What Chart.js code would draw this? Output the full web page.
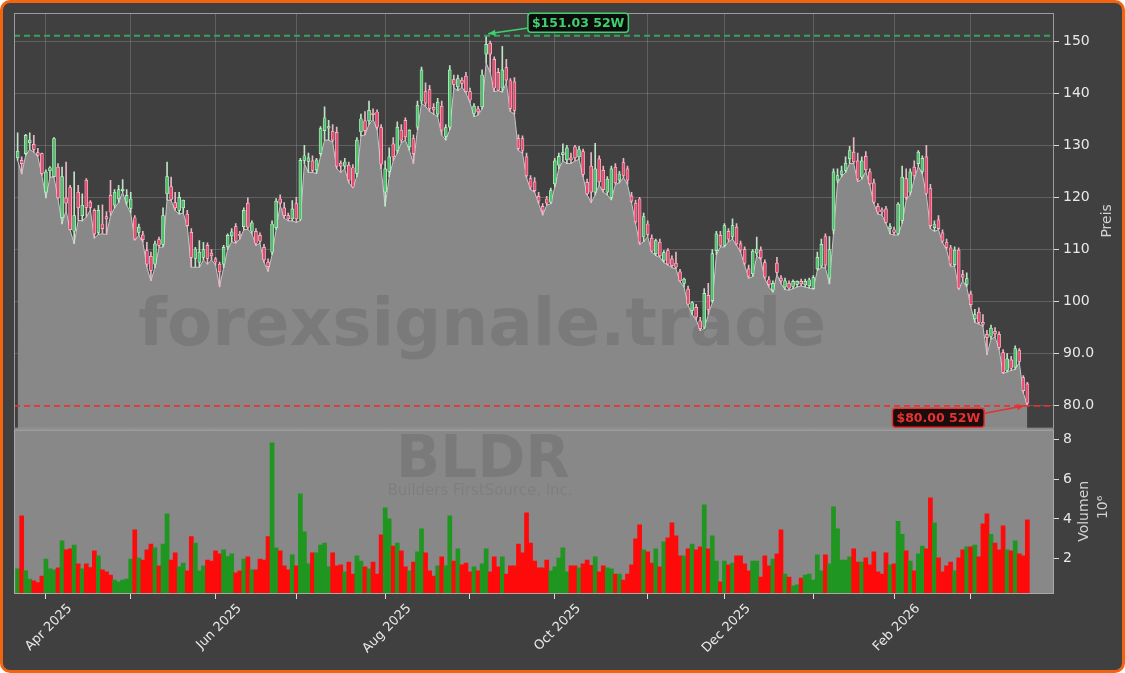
<!DOCTYPE html>
<html>
<head>
<meta charset="utf-8">
<script src="https://cdn.jsdelivr.net/npm/chart.js@4.4.1/dist/chart.umd.min.js"></script>
<style>
  html, body { margin: 0; padding: 0; background: #ffffff; }
  #frame { position: absolute; left: 0; top: 0; width: 1125px; height: 673px; box-sizing: border-box;
           border: 3px solid #f2640f; border-radius: 10px; background: #404040; }
  #chart { position: absolute; left: 0; top: 0; }
</style>
</head>
<body>
<div id="frame"></div>
<canvas id="chart" width="1125" height="673"></canvas>
<script>
// BLDR daily bars, Mar 2025 - Mar 2026 (index = trading day)
const opens = [
  127.6,127.1,128.4,130.5,130.2,128.6,128.4,121.0,125.1,124.0,
  125.8,116.1,119.9,121.9,113.5,121.0,116.5,123.3,119.1,117.5,
  113.3,114.9,116.3,120.4,118.5,119.7,121.3,119.1,117.9,116.1,
  113.3,112.8,109.8,108.7,107.2,111.9,111.0,120.7,122.1,119.0,
  117.5,118.0,116.8,113.3,108.3,107.5,108.5,110.8,109.3,108.2,
  107.2,107.2,110.5,112.6,114.4,112.9,114.4,118.9,113.5,113.5,
  112.7,110.4,107.6,109.5,114.2,119.7,118.0,116.5,115.9,118.8,
  115.8,127.1,126.9,127.0,125.3,128.4,132.8,133.3,132.7,132.5,
  126.6,126.0,126.2,125.7,124.6,132.6,134.7,134.7,136.2,136.4,
  133.4,121.0,125.0,130.3,129.0,132.9,134.8,129.7,131.3,133.5,
  138.5,140.3,140.7,137.3,136.0,137.5,131.7,133.5,142.6,141.2,
  142.5,143.3,140.3,136.1,137.0,137.4,147.5,149.6,146.5,144.0,
  141.0,144.9,142.4,142.2,131.3,131.3,127.8,123.6,123.0,120.2,
  118.3,119.7,119.1,122.6,126.2,128.2,127.2,127.6,129.7,127.8,
  128.8,122.9,126.0,121.0,127.4,125.2,121.0,120.0,125.8,123.3,
  126.7,125.5,120.3,118.9,119.7,112.4,114.9,112.2,109.2,111.4,
  107.9,109.8,108.2,107.4,105.7,103.5,102.4,98.3,98.9,96.3,
  95.1,101.2,100.2,109.8,112.7,110.8,113.5,112.5,114.3,111.1,
  110.0,106.3,105.3,109.3,109.9,107.5,104.2,102.2,107.4,104.5,
  102.8,103.5,102.9,103.3,103.9,103.2,103.0,102.5,106.3,106.8,
  112.5,104.5,113.7,123.3,124.4,125.2,127.4,128.7,127.0,123.9,
  127.9,124.9,122.8,118.3,117.6,117.8,114.0,113.8,113.1,115.6,
  123.6,121.0,125.8,126.5,125.0,127.8,121.7,114.2,115.7,113.2,
  111.4,110.3,107.1,109.9,105.2,103.3,101.5,96.7,98.0,96.0,
  93.7,93.3,94.3,93.7,90.2,86.8,88.8,87.4,90.6,85.4,
  84.2
]
const highs = [
  132.4,127.8,132.1,132.4,131.9,129.4,128.5,125.3,125.9,131.5,
  126.5,125.8,126.8,122.3,124.9,122.3,120.7,123.6,119.4,117.8,
  118.5,118.6,117.3,123.3,121.5,122.3,123.4,121.5,121.0,116.5,
  114.9,113.5,111.4,109.5,111.6,112.4,118.0,126.8,123.9,121.0,
  121.0,119.5,117.5,114.0,110.4,111.7,111.4,111.3,110.0,108.5,
  107.6,110.8,113.0,114.0,115.0,113.5,118.0,119.9,115.5,114.0,
  113.2,111.0,108.2,115.5,119.8,120.5,119.0,117.0,119.4,120.0,
  127.5,130.0,128.5,128.0,127.5,133.6,137.4,134.8,134.0,133.5,
  127.0,127.5,126.8,126.3,131.5,136.0,136.5,138.5,137.0,136.8,
  134.0,127.0,129.5,131.5,134.5,134.0,135.3,133.0,132.0,138.5,
  145.0,142.0,141.5,138.0,139.0,138.5,134.0,145.3,143.5,143.5,
  143.0,144.0,141.0,138.0,137.5,144.5,151.03,150.0,147.0,144.8,
  149.0,146.5,142.8,143.0,132.0,131.8,128.5,124.2,123.8,121.0,
  118.8,120.2,121.8,127.5,128.5,130.3,130.0,128.5,130.0,129.8,
  129.3,123.5,128.6,130.4,128.0,126.0,124.0,126.0,126.5,125.0,
  127.5,126.0,121.0,119.5,120.0,117.0,115.5,112.8,112.0,112.0,
  109.8,110.2,108.8,109.5,106.2,104.5,103.0,100.0,99.5,97.0,
  102.5,103.5,110.0,113.5,113.5,115.0,114.0,115.9,115.0,111.6,
  110.5,107.0,110.0,112.4,110.5,108.0,104.8,104.0,108.5,105.0,
  104.5,104.0,104.2,104.0,104.3,104.3,104.5,105.0,109.5,112.0,
  113.0,112.5,125.5,125.5,126.0,127.8,129.8,131.5,128.5,127.8,
  128.8,125.5,123.5,118.8,118.0,118.3,115.0,114.3,119.0,126.0,
  125.5,125.5,127.0,129.0,128.0,130.0,122.5,115.5,116.5,113.8,
  112.0,110.8,110.5,110.3,106.0,105.5,102.0,98.5,98.8,97.5,
  94.5,95.5,95.0,94.2,90.8,90.0,89.5,91.5,91.0,85.8,
  84.5
]
const lows = [
  127.1,124.5,128.1,129.2,128.7,127.8,124.2,119.9,123.9,123.9,
  119.7,114.9,117.5,113.7,111.1,115.6,115.5,116.2,117.6,112.2,
  112.9,113.0,112.9,116.5,118.0,119.0,121.0,118.5,117.0,111.8,
  112.7,111.4,106.6,104.0,106.5,110.4,110.5,119.5,119.4,117.5,
  116.8,117.0,114.4,106.6,106.6,106.6,108.0,107.2,108.0,107.0,
  102.8,106.5,110.0,111.5,111.2,112.0,113.8,113.9,113.0,110.8,
  111.2,107.5,105.8,109.0,113.8,118.5,116.0,115.5,115.5,115.2,
  115.6,126.5,124.8,124.8,124.6,127.9,131.0,131.0,130.6,125.5,
  124.8,125.5,122.8,121.8,124.0,131.8,132.0,134.0,135.0,133.0,
  125.5,118.3,124.0,127.0,128.5,130.5,131.0,129.0,126.5,133.0,
  138.0,137.5,136.5,136.0,135.5,132.0,131.0,133.0,141.0,140.5,
  141.2,140.0,138.2,135.5,135.8,137.0,145.8,144.0,140.3,140.5,
  140.2,142.0,136.5,136.0,129.0,128.5,123.8,121.5,121.0,118.8,
  116.6,118.5,118.8,122.0,125.5,127.0,126.5,126.5,127.0,127.3,
  124.0,120.5,119.0,120.5,122.4,121.0,120.5,119.5,122.5,122.8,
  123.8,122.5,119.0,115.0,111.0,111.5,112.5,109.5,108.8,108.5,
  107.5,107.0,106.5,106.3,103.8,102.8,99.3,97.5,96.5,94.4,
  94.8,97.5,99.8,109.0,110.5,110.5,111.5,112.0,110.8,109.5,
  107.0,104.5,104.8,108.8,108.0,104.4,102.8,101.8,105.2,103.5,
  102.3,102.2,102.5,102.8,103.0,102.8,102.6,102.4,106.0,106.5,
  106.5,103.4,113.0,122.8,124.0,124.8,126.5,126.5,123.0,123.5,
  125.0,122.3,118.8,116.8,116.6,115.0,113.0,112.8,112.8,115.0,
  119.5,120.5,123.5,126.0,124.5,120.5,114.0,113.5,113.8,111.3,
  110.0,106.8,106.8,102.3,104.0,102.8,99.0,96.0,95.7,95.2,
  89.8,92.8,93.2,90.8,86.2,86.5,86.8,87.0,88.3,82.5,
  80.0
]
const closes = [
  128.9,126.5,131.9,131.0,129.2,128.1,124.6,124.9,125.7,131.3,
  119.9,124.0,118.9,113.8,116.5,118.0,118.5,118.1,118.1,113.0,
  117.5,114.0,115.9,117.2,121.0,121.5,121.6,120.4,119.7,112.0,
  114.3,111.9,107.2,106.0,111.1,110.8,116.5,124.0,119.6,118.0,
  120.0,119.5,114.6,108.5,110.1,109.5,110.0,108.3,108.8,107.6,
  105.7,110.4,112.7,113.4,111.6,112.7,117.5,114.3,115.1,111.2,
  111.6,108.0,106.7,114.9,119.3,118.9,116.5,115.9,117.8,115.9,
  127.1,128.0,127.6,125.2,127.2,133.2,135.3,133.6,131.0,126.0,
  126.0,126.8,123.3,122.0,131.0,135.1,132.8,136.7,135.9,133.5,
  126.4,125.5,127.8,127.8,133.5,131.0,131.6,132.9,128.4,137.7,
  144.5,138.1,137.1,136.8,138.3,132.9,133.4,144.5,141.7,142.8,
  141.9,140.3,138.7,137.5,136.4,143.5,149.4,147.5,141.0,140.6,
  144.5,142.5,137.1,136.7,129.4,129.0,124.2,122.0,121.3,119.3,
  117.4,118.9,121.3,127.0,127.9,128.6,129.5,127.2,127.6,129.2,
  124.4,120.7,121.0,125.5,123.0,121.5,123.5,125.5,122.8,124.5,
  124.2,123.3,119.3,115.3,111.4,116.3,112.9,109.7,111.7,108.8,
  109.4,107.2,106.9,106.6,104.0,104.3,99.5,99.8,97.0,94.8,
  101.6,98.5,109.2,113.0,110.8,114.6,112.0,114.6,111.1,109.9,
  107.4,104.9,109.7,110.1,108.4,104.7,103.3,103.5,105.6,104.0,
  104.0,102.6,103.9,103.9,103.4,103.9,104.2,104.6,108.5,111.0,
  107.0,110.0,124.9,124.2,125.1,126.6,129.0,126.8,123.5,127.0,
  125.3,122.6,119.1,117.2,117.2,115.2,114.4,113.3,118.7,123.9,
  120.0,124.9,124.2,128.7,127.5,120.8,114.6,114.8,114.0,111.6,
  110.4,107.2,109.9,102.6,104.7,104.4,99.4,97.5,96.0,95.6,
  93.1,94.9,93.8,91.2,86.4,89.0,87.2,91.0,88.5,82.9,
  80.5
]
// volume in millions
const volumes = [
  1.47,4.15,1.37,0.96,0.86,0.78,1.11,1.97,1.47,1.42,
  1.52,2.89,2.43,2.48,2.68,1.72,1.47,1.72,1.54,2.38,
  2.13,1.42,1.32,1.16,0.91,0.81,0.91,0.96,1.97,3.44,
  2.02,1.92,2.43,2.73,2.53,1.62,2.73,4.25,1.92,2.28,
  1.57,1.77,1.37,3.10,2.78,1.37,1.62,1.92,1.87,2.38,
  2.23,2.43,2.09,2.23,1.27,1.37,1.97,2.08,1.42,1.42,
  1.97,1.92,3.10,7.85,2.53,2.38,1.62,1.42,2.18,1.62,
  5.27,3.34,1.72,2.28,2.28,2.68,2.78,1.57,2.28,1.62,
  1.67,1.32,1.82,1.21,2.13,1.87,1.57,1.47,1.82,1.21,
  3.19,4.56,4.00,2.63,2.78,2.38,1.57,1.37,1.82,2.33,
  3.49,2.28,1.37,1.11,1.62,2.08,1.62,4.15,1.87,2.48,
  1.67,1.77,1.32,1.57,1.37,1.72,2.48,1.32,2.08,1.57,
  2.08,1.21,1.62,1.62,2.73,2.28,4.30,2.78,1.87,1.52,
  1.52,1.92,1.37,1.57,2.02,2.53,1.32,1.62,1.62,1.52,
  1.72,1.92,1.65,2.08,1.32,1.62,1.52,1.47,1.21,1.21,
  0.91,1.21,1.67,2.99,3.70,2.43,2.33,1.77,2.48,1.57,
  2.84,3.04,3.80,3.14,2.13,2.13,2.48,2.73,2.43,2.58,
  4.71,2.48,3.14,1.87,0.81,1.87,1.67,1.77,2.13,2.13,
  1.72,1.37,1.87,1.87,1.06,2.13,1.62,1.97,2.23,3.44,
  1.21,1.06,0.61,0.66,1.01,1.16,1.21,0.91,2.18,1.37,
  2.18,1.72,4.61,3.49,1.92,1.92,2.08,2.48,1.82,1.82,
  2.03,1.67,2.33,1.32,1.21,2.28,1.67,1.72,3.87,3.22,
  2.38,1.87,1.37,2.23,2.63,2.48,5.06,3.80,2.03,1.32,
  1.62,1.82,1.37,2.03,2.43,2.58,2.58,2.68,2.08,3.75,
  4.25,3.22,2.78,2.43,3.65,2.43,2.38,2.89,2.23,2.13,
  3.95
]
// first trading day of each month (bar index) and its label
const tickIndex = [7, 28, 49, 69, 91, 112, 133, 156, 175, 197, 217, 236]
const tickLabels = ['Apr 2025', '', 'Jun 2025', '', 'Aug 2025', '', 'Oct 2025', '', 'Dec 2025', '', 'Feb 2026', '']
const priceTicks = [80, 90, 100, 110, 120, 130, 140, 150]
const volumeTicks = [2, 4, 6, 8]

Chart.defaults.font.family = 'DejaVu Sans'

const isUp = closes.map((c, i) => c >= opens[i])
const high52 = Math.max(...highs)
const low52 = Math.min(...lows)
const highIdx = highs.indexOf(high52)
const lowIdx = lows.indexOf(low52)

function drawTag(ctx, text, cx, cy, fromX, fromY, toX, toY, color, bg) {
  ctx.save()
  // arrow
  ctx.strokeStyle = color
  ctx.fillStyle = color
  ctx.lineWidth = 1.6
  ctx.beginPath()
  ctx.moveTo(fromX, fromY)
  ctx.lineTo(toX, toY)
  ctx.stroke()
  const ang = Math.atan2(toY - fromY, toX - fromX)
  ctx.beginPath()
  ctx.moveTo(toX, toY)
  ctx.lineTo(toX - 8 * Math.cos(ang - 0.4), toY - 8 * Math.sin(ang - 0.4))
  ctx.lineTo(toX - 8 * Math.cos(ang + 0.4), toY - 8 * Math.sin(ang + 0.4))
  ctx.closePath()
  ctx.fill()
  // box
  ctx.font = 'bold 12.5px "DejaVu Sans"'
  const w = ctx.measureText(text).width + 8
  const h = 19
  ctx.beginPath()
  ctx.roundRect(cx - w / 2, cy - h / 2, w, h, 3)
  ctx.fillStyle = bg
  ctx.fill()
  ctx.lineWidth = 1.5
  ctx.stroke()
  ctx.fillStyle = color
  ctx.textAlign = 'center'
  ctx.textBaseline = 'middle'
  ctx.fillText(text, cx, cy + 1)
  ctx.restore()
}

const panelPlugin = {
  id: 'panels',
  beforeDatasetsDraw(chart) {
    const {ctx, chartArea, scales} = chart
    ctx.save()
    ctx.fillStyle = '#888888'
    ctx.fillRect(chartArea.left, scales.yVol.top, chartArea.right - chartArea.left, scales.yVol.bottom - scales.yVol.top)
    ctx.restore()
  },
  afterDatasetDraw(chart, args) {
    if (args.index !== 0) return
    const {ctx, width, height} = chart
    ctx.save()
    ctx.textAlign = 'center'
    ctx.textBaseline = 'middle'
    ctx.fillStyle = 'rgba(0,0,0,0.1)'
    ctx.font = 'bold 66px "DejaVu Sans"'
    ctx.fillText('forexsignale.trade', width * 0.4285, height * 0.4874)
    ctx.font = 'bold 58px "DejaVu Sans"'
    ctx.fillText('BLDR', width * 0.4293, height * 0.6865)
    ctx.fillStyle = 'rgba(0,0,0,0.07)'
    ctx.font = '15px "DejaVu Sans"'
    ctx.fillText('Builders FirstSource, Inc.', width * 0.4267, height * 0.7296)
    ctx.restore()
  },
  afterDatasetsDraw(chart) {
    const {ctx, chartArea, scales: {x, y, yVol}} = chart
    ctx.save()
    // 52 week lines
    ctx.setLineDash([6, 4])
    ctx.lineWidth = 1.8
    ctx.strokeStyle = 'rgba(55,170,95,0.95)'
    ctx.beginPath()
    ctx.moveTo(chartArea.left, y.getPixelForValue(high52))
    ctx.lineTo(chartArea.right, y.getPixelForValue(high52))
    ctx.stroke()
    ctx.strokeStyle = 'rgba(235,45,45,0.95)'
    ctx.beginPath()
    ctx.moveTo(chartArea.left, y.getPixelForValue(low52))
    ctx.lineTo(chartArea.right, y.getPixelForValue(low52))
    ctx.stroke()
    ctx.setLineDash([])
    // panel frames
    ctx.lineWidth = 1
    ctx.strokeStyle = '#9c9c9c'
    ctx.strokeRect(chartArea.left + 0.5, y.top + 0.5, chartArea.right - chartArea.left - 1, y.bottom - y.top - 1)
    ctx.strokeStyle = '#a8a8a8'
    ctx.strokeRect(chartArea.left + 0.5, yVol.top + 1.5, chartArea.right - chartArea.left - 1, yVol.bottom - yVol.top - 2)
    ctx.restore()

    // labels for the 52 week high / low
    const hx = x.getPixelForValue(highIdx), hy = y.getPixelForValue(high52)
    drawTag(ctx, '$' + high52.toFixed(2) + ' 52W', hx + 92, hy - 13,
      hx + 44, hy - 8, hx + 2, hy - 2, '#3fd06f', '#0c0c0c')
    const lx = x.getPixelForValue(lowIdx), ly = y.getPixelForValue(low52)
    drawTag(ctx, '$' + low52.toFixed(2) + ' 52W', lx - 89, ly + 12,
      lx - 45, ly + 8, lx - 3, ly, '#e63232', '#1c0d0d')
  },
  afterDraw(chart) {
    const {ctx, chartArea, scales: {y, yVol}} = chart
    ctx.save()
    ctx.fillStyle = '#d2d2d2'
    ctx.font = '14px "DejaVu Sans"'
    ctx.textAlign = 'center'
    ctx.textBaseline = 'middle'
    const rot = (text, px, py) => {
      ctx.save()
      ctx.translate(px, py)
      ctx.rotate(-Math.PI / 2)
      ctx.fillText(text, 0, 0)
      ctx.restore()
    }
    rot('Preis', chartArea.right + 53, (y.top + y.bottom) / 2)
    rot('Volumen', chartArea.right + 30, (yVol.top + yVol.bottom) / 2)
    rot('10\u2076', chartArea.right + 49, (yVol.top + yVol.bottom) / 2 - 4)
    ctx.restore()
  }
}

const tickColor = '#dcdcdc'
const labelColor = '#e8e8e8'
const gridColor = 'rgba(255,255,255,0.17)'

new Chart(document.getElementById('chart'), {
  type: 'bar',
  data: {
    datasets: [
      {
        type: 'line',
        data: lows.map((l, i) => ({x: i, y: l})),
        yAxisID: 'y',
        fill: 'start',
        backgroundColor: '#888888',
        borderColor: '#c6c6c6',
        borderWidth: 1,
        pointRadius: 0,
        tension: 0,
        order: 3
      },
      {
        data: lows.map((l, i) => ({x: i, y: [l, highs[i]]})),
        yAxisID: 'y',
        grouped: false,
        barThickness: 1,
        backgroundColor: isUp.map(u => u ? '#bfe2c5' : '#e9b6c5'),
        order: 2
      },
      {
        data: opens.map((o, i) => ({x: i, y: [o, closes[i]]})),
        yAxisID: 'y',
        grouped: false,
        barThickness: 3,
        minBarLength: 1,
        backgroundColor: isUp.map(u => u ? '#4cc36a' : '#e8496f'),
        borderColor: isUp.map(u => u ? '#d6f2da' : '#f6cfd9'),
        borderWidth: 0.7,
        borderSkipped: false,
        order: 1
      },
      {
        data: volumes.map((v, i) => ({x: i, y: v})),
        yAxisID: 'yVol',
        grouped: false,
        barPercentage: 1,
        categoryPercentage: 1,
        backgroundColor: isUp.map(u => u ? '#1f961f' : '#ff0a0a'),
        order: 0
      }
    ]
  },
  options: {
    responsive: false,
    animation: false,
    layout: { padding: { left: 14, top: 13, right: 0, bottom: 0 } },
    plugins: { legend: { display: false }, tooltip: { enabled: false } },
    scales: {
      x: {
        type: 'linear',
        offset: false,
        min: -0.9,
        max: 256.6,
        afterBuildTicks: s => { s.ticks = tickIndex.map(v => ({value: v})) },
        afterFit: s => { s.height = 79 },
        border: { display: false },
        grid: { offset: false, color: gridColor, tickColor: tickColor, tickLength: 5 },
        ticks: {
          autoSkip: false,
          minRotation: 45,
          maxRotation: 45,
          labelOffset: 24,
          padding: 2,
          color: labelColor,
          font: { size: 13 },
          callback: (v, i) => tickLabels[i] || ''
        }
      },
      y: {
        position: 'right',
        stack: 'panes',
        stackWeight: 415,
        min: 75.6,
        max: 155.4,
        afterBuildTicks: s => { s.ticks = priceTicks.map(v => ({value: v})) },
        afterFit: s => { s.width = 71 },
        border: { display: false },
        grid: { color: gridColor, tickColor: tickColor, tickLength: 5 },
        ticks: {
          padding: 4,
          color: labelColor,
          font: { size: 14 },
          callback: v => v >= 100 ? String(v) : v.toFixed(1)
        }
      },
      yVol: {
        position: 'right',
        stack: 'panes',
        stackWeight: 165,
        min: 0.2,
        max: 8.56,
        afterBuildTicks: s => { s.ticks = volumeTicks.map(v => ({value: v})) },
        afterFit: s => { s.width = 71 },
        border: { display: false },
        grid: { drawOnChartArea: false, tickColor: tickColor, tickLength: 5 },
        ticks: { padding: 4, color: labelColor, font: { size: 14 } }
      }
    }
  },
  plugins: [panelPlugin]
})
</script>
</body>
</html>
